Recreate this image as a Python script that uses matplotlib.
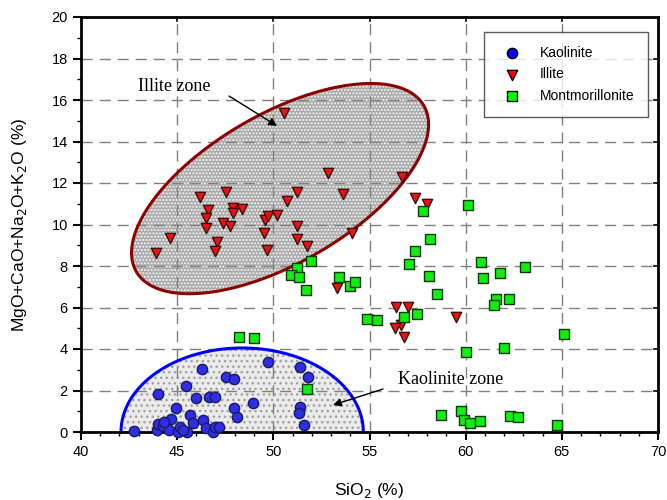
import numpy as np
import matplotlib
matplotlib.use("Agg")
import matplotlib.pyplot as plt
from matplotlib.patches import Polygon

plt.rcParams['font.family'] = ['Liberation Sans', 'DejaVu Sans']
plt.rcParams['hatch.linewidth'] = 1.0

# SiO2 (%) vs MgO+CaO+Na2O+K2O (%)
kao_x = [42.77, 43.94, 43.99, 44.28, 44.58, 44.66, 45.06, 45.15, 44.94, 45.5,
         45.67, 45.84, 46.33, 46.5, 46.88, 46.97, 47.19, 44.02, 45.46, 45.98,
         46.27, 46.64, 46.97, 47.54, 47.96, 47.96, 48.13, 48.96, 49.71, 51.39,
         51.8, 51.39, 51.32, 51.6, 44.33, 45.3]
kao_y = [0.05, 0.1, 0.39, 0.29, 0.1, 0.63, 0.0, 0.26, 1.14, 0.0,
         0.82, 0.45, 0.58, 0.18, 0.0, 0.26, 0.26, 1.83, 2.23, 1.62,
         3.02, 1.67, 1.67, 2.64, 2.54, 1.14, 0.74, 1.41, 3.39, 3.15,
         2.64, 1.19, 0.93, 0.34, 0.47, 0.1]

ill_x = [46.19, 47.54, 46.62, 46.5, 46.5, 47.92, 48.39, 47.89, 47.4, 47.75,
         44.63, 43.9, 47.06, 46.97, 49.57, 49.71, 50.18, 49.53, 49.69, 50.56,
         52.86, 56.68, 51.22, 50.73, 53.64, 51.22, 51.25, 51.73, 54.1, 57.37,
         57.97, 53.29, 56.38, 57.02, 56.64, 56.33, 56.81, 59.5]
ill_y = [11.34, 11.58, 10.7, 10.3, 9.85, 10.78, 10.73, 10.54, 10.06, 9.93,
         9.36, 8.61, 9.17, 8.74, 10.22, 10.41, 10.46, 9.58, 8.77, 15.36,
         12.5, 12.3, 11.58, 11.15, 11.47, 9.93, 9.29, 8.96, 9.6, 11.26,
         10.99, 6.92, 6.01, 6.04, 5.16, 5.0, 4.59, 5.56]

mont_x = [60.14, 57.8, 58.13, 57.37, 57.07, 60.8, 63.09, 61.79, 60.92, 58.11,
          58.49, 61.58, 61.49, 62.24, 56.8, 57.46, 54.89, 55.37, 60.0, 62.01,
          58.7, 59.74, 59.93, 60.23, 60.75, 62.31, 62.71, 51.94, 51.25, 50.92,
          51.35, 51.7, 53.43, 53.99, 54.25, 65.1, 64.75, 48.23, 48.99, 51.73]
mont_y = [10.94, 10.65, 9.29, 8.74, 8.1, 8.21, 7.97, 7.65, 7.41, 7.53,
          6.64, 6.4, 6.12, 6.4, 5.56, 5.67, 5.45, 5.4, 3.84, 4.06,
          0.82, 1.03, 0.58, 0.42, 0.53, 0.77, 0.74, 8.26, 7.89, 7.57,
          7.45, 6.84, 7.45, 7.04, 7.24, 4.7, 0.34, 4.59, 4.51, 2.06]

fig = plt.figure(figsize=(6.67, 5), dpi=100)
ax = fig.add_axes([81 / 667, 68 / 500, 577 / 667, 415 / 500])
ax.set_xlim(40, 70)
ax.set_ylim(0, 20)

# pixels per data unit, to draw ellipses as they look on screen
sx = 577 / 30
sy = 415 / 20


def ellipse_pts(cx, cy, a, b, ang, t0=0, t1=2 * np.pi):
    t = np.linspace(t0, t1, 300)
    th = np.deg2rad(ang)
    dx = a * np.cos(t) * np.cos(th) - b * np.sin(t) * np.sin(th)
    dy = a * np.cos(t) * np.sin(th) + b * np.sin(t) * np.cos(th)
    return np.column_stack([cx + dx / sx, cy + dy / sy])


# Illite zone
ill_pts = ellipse_pts(50.35, 11.73, 166, 74.5, 30)
ax.add_patch(Polygon(ill_pts, closed=True, facecolor='#ababab', edgecolor='#f4f4f4',
                     hatch='.....', lw=0, zorder=1))
ax.add_patch(Polygon(ill_pts, closed=True, fill=False, edgecolor='#8b0000',
                     lw=2.2, zorder=2))

# Kaolinite zone (upper half)
kao_pts = ellipse_pts(48.38, 0, 6.3 * sx, 4.05 * sy, 0, 0, np.pi)
ax.add_patch(Polygon(kao_pts, closed=True, facecolor='#ebebeb', edgecolor='#a0a0a0',
                     hatch='...', lw=0, zorder=1))
ax.plot(kao_pts[:, 0], kao_pts[:, 1], color='#0000ff', lw=2.2, zorder=2)

ax.grid(True, which='major', color='#808080', ls=(0, (8, 5)), lw=1.0, zorder=1.5)
ax.set_axisbelow('line')

ax.scatter(kao_x, kao_y, s=55, marker='o', facecolor='#2e2ee6', edgecolor='#1a1a60',
           lw=1.0, zorder=4, clip_on=False, label='Kaolinite')
ax.scatter(ill_x, ill_y, s=55, marker='v', facecolor='#ee1111', edgecolor='#3a1010',
           lw=1.0, zorder=4, label='Illite')
ax.scatter(mont_x, mont_y, s=50, marker='s', facecolor='#11ee11', edgecolor='#103a10',
           lw=1.0, zorder=4, label='Montmorillonite')

# zone labels with arrows
ax.text(44.83, 16.67, 'Illite zone', fontsize=13, family=['Liberation Serif'],
        ha='center', va='center')
ax.annotate('', xy=(50.19, 14.75), xytext=(47.70, 16.19),
            arrowprops=dict(arrowstyle='-|>', color='black', lw=1.0,
                            shrinkA=0, shrinkB=0, mutation_scale=12))
ax.text(59.24, 2.55, 'Kaolinite zone', fontsize=13, family=['Liberation Serif'],
        ha='center', va='center')
ax.annotate('', xy=(53.10, 1.30), xytext=(55.70, 2.07),
            arrowprops=dict(arrowstyle='-|>', color='black', lw=1.0,
                            shrinkA=0, shrinkB=0, mutation_scale=12))

ax.set_xticks(np.arange(40, 71, 5))
ax.set_yticks(np.arange(0, 21, 2))
ax.set_xticks(np.arange(40, 71, 1), minor=True)
ax.set_yticks(np.arange(0, 21, 1), minor=True)
ax.tick_params(which='major', direction='out', length=6, width=1.5, labelsize=10.5,
               top=False, right=False)
ax.tick_params(which='minor', direction='out', length=3, width=1.0,
               top=False, right=False)
for s in ax.spines.values():
    s.set_linewidth(2)

# inward major ticks on right and top
for y in np.arange(2, 20, 2):
    ax.plot([70 - 4 / sx, 70], [y, y], color='black', lw=1.2, zorder=5, clip_on=False)
for x in np.arange(45, 70, 5):
    ax.plot([x, x], [20 - 4 / sy, 20], color='black', lw=1.2, zorder=5, clip_on=False)

ax.set_xlabel('SiO$_2$ (%)', fontsize=12.5, labelpad=16)
ax.set_ylabel('MgO+CaO+Na$_2$O+K$_2$O (%)', fontsize=12.5, labelpad=16)

leg = ax.legend(loc='upper right', bbox_to_anchor=(0.983, 0.964), borderaxespad=0,
                fontsize=10, frameon=True, fancybox=False, borderpad=1.0,
                handletextpad=1.0, labelspacing=0.55, scatterpoints=1)
leg.get_frame().set_edgecolor('#333333')
leg.get_frame().set_linewidth(1.0)
leg.set_zorder(6)
for h, c in zip(leg.legend_handles, ['#0000ff', '#ff0000', '#00ff00']):
    h.set_facecolor(c)
    h.set_edgecolor('black')

fig.savefig('out.png', dpi=100)
